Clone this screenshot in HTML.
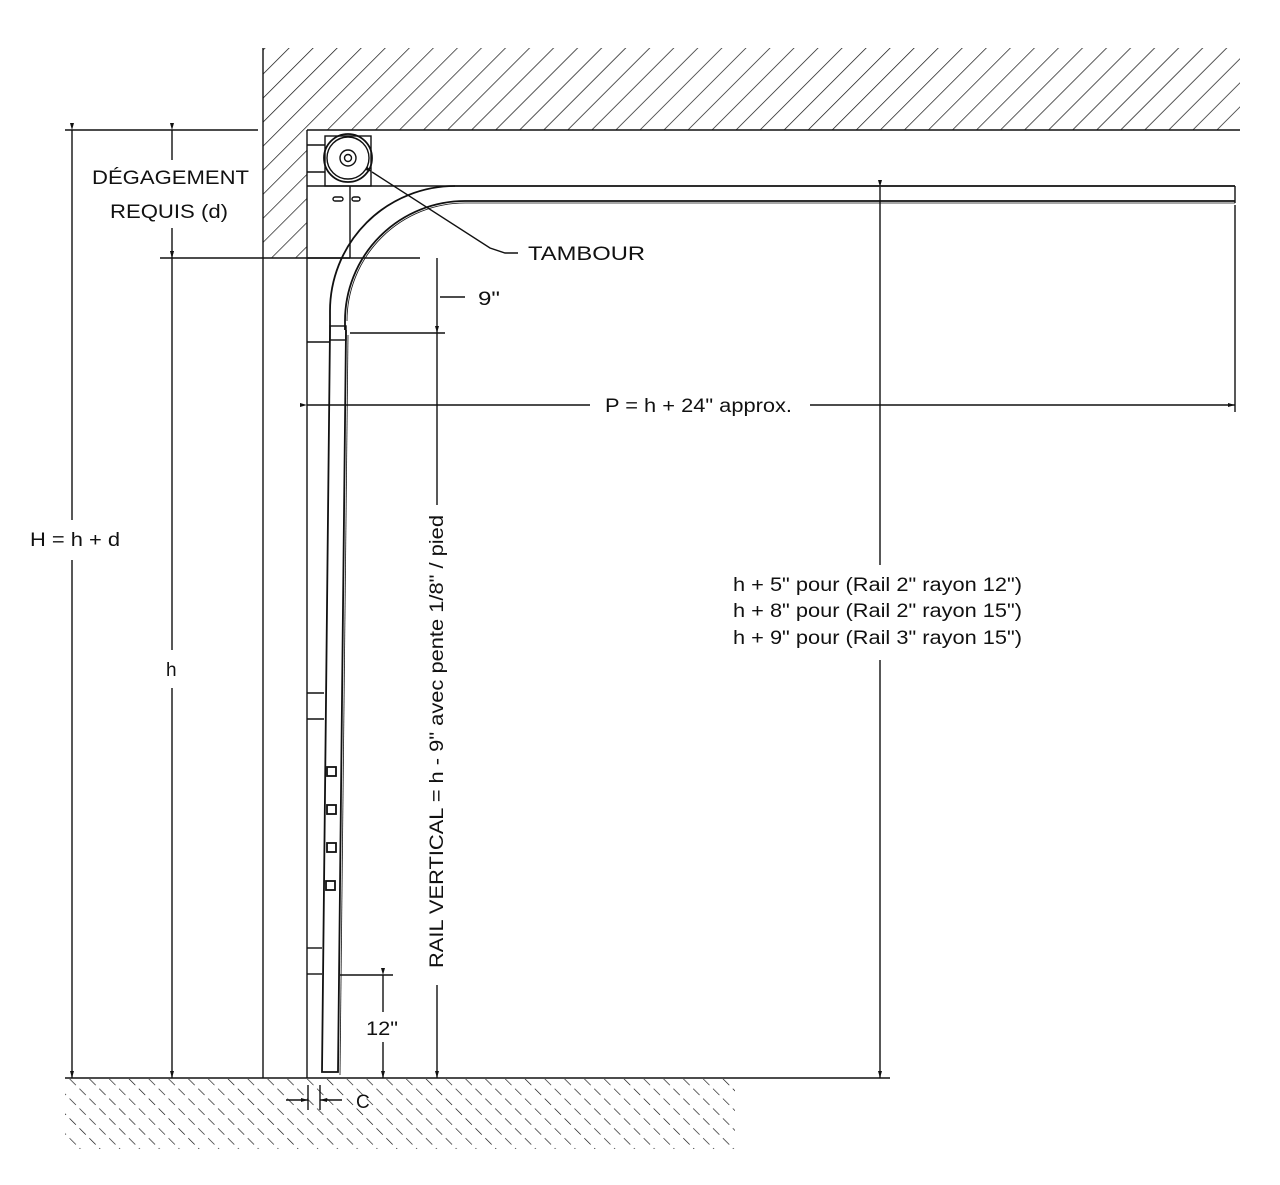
<!DOCTYPE html>
<html><head><meta charset="utf-8"><style>
html,body{margin:0;padding:0;background:#fff;}
svg{display:block;}
text{font-family:"Liberation Sans",sans-serif;fill:#111;}
</style></head><body>
<svg width="1280" height="1185" viewBox="0 0 1280 1185" xmlns="http://www.w3.org/2000/svg">
<defs>
<pattern id="hatch" patternUnits="userSpaceOnUse" width="17" height="17" patternTransform="rotate(45)">
<line x1="0" y1="0" x2="0" y2="17" stroke="#111" stroke-width="1.4"/>
</pattern>
<pattern id="fh" patternUnits="userSpaceOnUse" width="14" height="14" patternTransform="rotate(-45)">
<line x1="0" y1="0" x2="0" y2="14" stroke="#111" stroke-width="1.3" stroke-dasharray="9,5"/>
</pattern>
<marker id="ar" markerWidth="8" markerHeight="8" refX="7" refY="4" orient="auto" markerUnits="userSpaceOnUse"><path d="M0,2 L7,4 L0,6 Z" fill="#111"/></marker>
</defs>
<g stroke="#111" fill="none" stroke-width="1.4">
<path d="M263,48 L1240,48 L1240,130 L307,130 L307,258 L263,258 Z" fill="url(#hatch)" stroke="none"/>
<line x1="263" y1="48" x2="263" y2="1078"/>
<line x1="307" y1="130" x2="1240" y2="130"/>
<line x1="307" y1="130" x2="307" y2="1078"/>
<rect x="65" y="1079" width="670" height="70" fill="url(#fh)" stroke="none"/>
<line x1="65" y1="1078" x2="735" y2="1078"/>
<line x1="307" y1="186" x2="455" y2="186"/>
<line x1="350" y1="186" x2="350" y2="258"/>
<line x1="307" y1="258" x2="350" y2="258"/>
<rect x="325" y="136" width="46" height="50"/>
<line x1="307" y1="145" x2="325" y2="145"/>
<line x1="307" y1="172" x2="325" y2="172"/>
<circle cx="348" cy="158" r="24" stroke-width="1.8"/>
<circle cx="348" cy="158" r="21"/>
<circle cx="348" cy="158" r="8"/>
<circle cx="348" cy="158" r="3.5"/>
<rect x="333" y="197" width="10" height="4" rx="2"/>
<rect x="352" y="197" width="8" height="4" rx="2"/>
<line x1="455" y1="186" x2="1235" y2="186" stroke-width="1.8"/>
<line x1="465" y1="201" x2="1235" y2="201" stroke-width="1.8"/>
<line x1="465" y1="203" x2="1235" y2="203" stroke-width="0.8"/>
<line x1="1235" y1="186" x2="1235" y2="203"/>
<path d="M455,186 A125,125 0 0 0 330,311 L330,330" stroke-width="1.8"/>
<path d="M465,201 A120,120 0 0 0 345,321 L345,330" stroke-width="1.8"/>
<path d="M465,203 A118,118 0 0 0 347,321" stroke-width="0.8"/>
<path d="M330,330 L322,1072 L338,1072 L346,330" stroke-width="1.8"/>
<line x1="348" y1="335" x2="340" y2="1075" stroke-width="0.8"/>
<line x1="307" y1="342" x2="330" y2="342"/>
<rect x="330" y="326" width="16" height="14"/>
<line x1="307" y1="693" x2="324" y2="693"/>
<line x1="307" y1="719" x2="324" y2="719"/>
<line x1="307" y1="948" x2="322" y2="948"/>
<line x1="307" y1="974" x2="322" y2="974"/>
<rect x="327" y="767" width="9" height="9" stroke-width="1.8"/>
<rect x="327" y="805" width="9" height="9" stroke-width="1.8"/>
<rect x="327" y="843" width="9" height="9" stroke-width="1.8"/>
<rect x="326" y="881" width="9" height="9" stroke-width="1.8"/>
<polyline points="372,172 490,248 505,253 518,253" marker-start="url(#ar)"/>
<line x1="65" y1="130" x2="258" y2="130"/>
<line x1="160" y1="258" x2="420" y2="258"/>
<line x1="72" y1="130" x2="72" y2="520" marker-start="url(#ar)"/>
<line x1="72" y1="560" x2="72" y2="1078" marker-end="url(#ar)"/>
<line x1="172" y1="130" x2="172" y2="160" marker-start="url(#ar)"/>
<line x1="172" y1="228" x2="172" y2="258" marker-end="url(#ar)"/>
<line x1="172" y1="258" x2="172" y2="650" marker-start="url(#ar)"/>
<line x1="172" y1="688" x2="172" y2="1078" marker-end="url(#ar)"/>
<line x1="350" y1="333" x2="445" y2="333"/>
<line x1="437" y1="258" x2="437" y2="333"/>
<line x1="440" y1="297" x2="465" y2="297"/>
<line x1="437" y1="333" x2="437" y2="505" marker-start="url(#ar)"/>
<line x1="437" y1="985" x2="437" y2="1078" marker-end="url(#ar)"/>
<line x1="340" y1="975" x2="393" y2="975"/>
<line x1="383" y1="975" x2="383" y2="1012" marker-start="url(#ar)"/>
<line x1="383" y1="1042" x2="383" y2="1078" marker-end="url(#ar)"/>
<line x1="308" y1="1085" x2="308" y2="1110"/>
<line x1="320" y1="1085" x2="320" y2="1110"/>
<line x1="286" y1="1100" x2="308" y2="1100" marker-end="url(#ar)"/>
<line x1="342" y1="1100" x2="320" y2="1100" marker-end="url(#ar)"/>
<line x1="307" y1="405" x2="590" y2="405" marker-start="url(#ar)"/>
<line x1="810" y1="405" x2="1235" y2="405" marker-end="url(#ar)"/>
<line x1="1235" y1="205" x2="1235" y2="412"/>
<line x1="880" y1="187" x2="880" y2="565" marker-start="url(#ar)"/>
<line x1="880" y1="660" x2="880" y2="1078" marker-end="url(#ar)"/>
<line x1="735" y1="1078" x2="890" y2="1078"/>
</g>
<g font-size="19">
<text x="92" y="184" textLength="157" lengthAdjust="spacingAndGlyphs">DÉGAGEMENT</text>
<text x="110" y="218" textLength="118" lengthAdjust="spacingAndGlyphs">REQUIS (d)</text>
<text x="528" y="260" textLength="117" lengthAdjust="spacingAndGlyphs">TAMBOUR</text>
<text x="478" y="305" textLength="22" lengthAdjust="spacingAndGlyphs">9"</text>
<text x="605" y="412" textLength="187" lengthAdjust="spacingAndGlyphs">P = h + 24" approx.</text>
<text x="30" y="546" textLength="90" lengthAdjust="spacingAndGlyphs">H = h + d</text>
<text x="166" y="676">h</text>
<text x="733" y="591" textLength="289" lengthAdjust="spacingAndGlyphs">h + 5" pour (Rail 2" rayon 12")</text>
<text x="733" y="617" textLength="289" lengthAdjust="spacingAndGlyphs">h + 8" pour (Rail 2" rayon 15")</text>
<text x="733" y="644" textLength="289" lengthAdjust="spacingAndGlyphs">h + 9" pour (Rail 3" rayon 15")</text>
<text x="366" y="1035" textLength="32" lengthAdjust="spacingAndGlyphs">12"</text>
<text x="356" y="1108">C</text>
<text transform="translate(443,968) rotate(-90)" textLength="453" lengthAdjust="spacingAndGlyphs">RAIL VERTICAL = h - 9" avec pente 1/8" / pied</text>
</g>
</svg>
</body></html>
